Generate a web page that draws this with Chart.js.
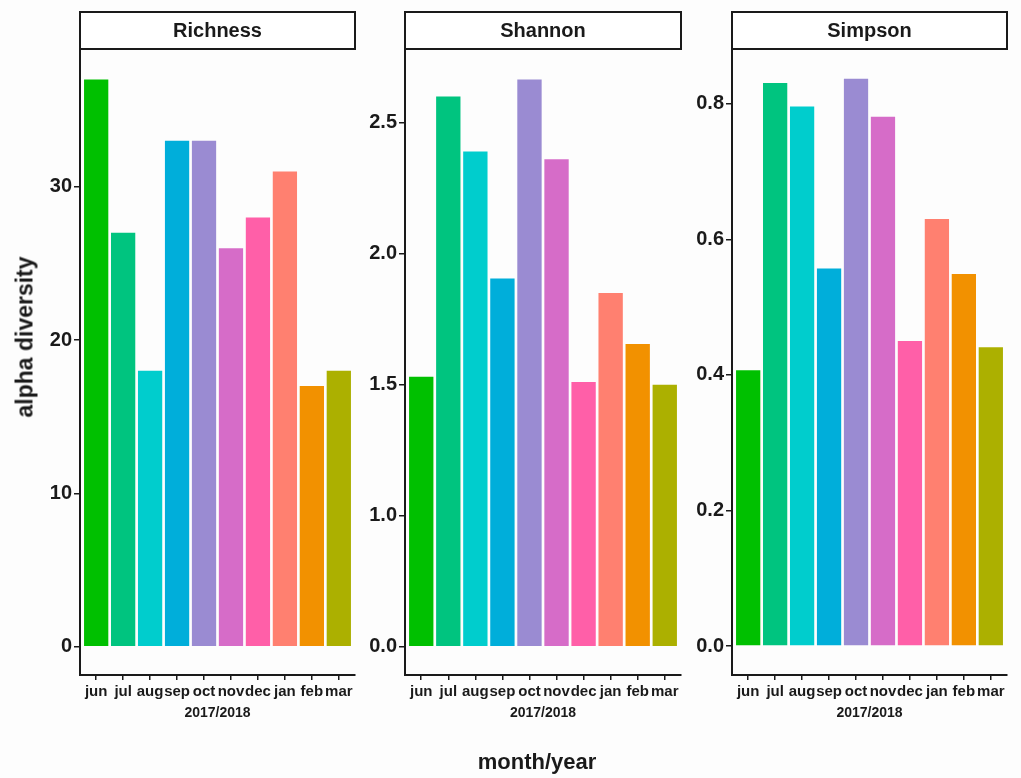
<!DOCTYPE html>
<html>
<head>
<meta charset="utf-8">
<script src="https://cdn.jsdelivr.net/npm/chart.js@4.4.0/dist/chart.umd.min.js"></script>
<style>
  body { margin: 0; background: #fdfdfd; font-family: "Liberation Sans", Arial, sans-serif; }
  #wrap { position: relative; width: 1021px; height: 778px; overflow: hidden; }
  canvas { position: absolute; top: 0; }
  .lbl { position: absolute; font-weight: bold; color: #1a1a1a; white-space: nowrap; }
  #xlab { left: 537px; top: 762px; font-size: 22px; transform: translate(-50%, -50%); }
  #ylab { left: 25px; top: 337px; font-size: 23px; transform: translate(-50%, -50%) rotate(-90deg); }
</style>
</head>
<body>
<div id="wrap">
  <canvas id="c1" width="360" height="778" style="left:0px"></canvas>
  <canvas id="c2" width="326" height="778" style="left:360px"></canvas>
  <canvas id="c3" width="335" height="778" style="left:686px"></canvas>
  <div class="lbl" id="xlab">month/year</div>
  <div class="lbl" id="ylab">alpha diversity</div>
</div>
<script>
// months of the sampling year
const months = ['jun', 'jul', 'aug', 'sep', 'oct', 'nov', 'dec', 'jan', 'feb', 'mar'];
const barColors = ['#00c000', '#00c47f', '#00cdcd', '#00aeda', '#9a8bd2', '#d66cc8', '#ff5fa8', '#ff8070', '#f29100', '#acb000'];

const richness = [37, 27, 18, 33, 33, 26, 28, 31, 17, 18];
const shannon = [1.53, 2.60, 2.39, 1.905, 2.665, 2.36, 1.51, 1.85, 1.655, 1.50];
const simpson = [0.407, 0.831, 0.796, 0.557, 0.837, 0.781, 0.450, 0.630, 0.549, 0.441];

const richnessTicks = [0, 10, 20, 30];
const shannonTicks = [0, 1, 1.5, 2, 2.5];
const simpsonTicks = [0, 0.2, 0.4, 0.6, 0.8];

const FONT = '"Liberation Sans", Arial, sans-serif';
const INK = '#1a1a1a';

// shannon axis in the figure squeezes 0..1 into half the space
class BrokenScale extends Chart.LinearScale {
  getPixelForValue(v) {
    if (v === null) return NaN;
    return super.getPixelForValue(v < 1 ? v / 2 : v - 0.5);
  }
  getValueForPixel(p) {
    const d = super.getValueForPixel(p);
    return d < 0.5 ? d * 2 : d + 0.5;
  }
}
BrokenScale.id = 'broken';
BrokenScale.defaults = Chart.LinearScale.defaults;
Chart.register(BrokenScale);

const stripPlugin = {
  id: 'strip',
  afterDraw(chart, args, opts) {
    const {ctx, chartArea} = chart;
    ctx.save();
    ctx.fillStyle = '#ffffff';
    ctx.fillRect(chartArea.left, 12, chartArea.right - chartArea.left, chartArea.top - 12);
    ctx.strokeStyle = INK;
    ctx.lineWidth = 2;
    ctx.strokeRect(chartArea.left, 12, chartArea.right - chartArea.left, chartArea.top - 12);
    ctx.fillStyle = INK;
    ctx.font = 'bold 20px ' + FONT;
    ctx.textAlign = 'center';
    ctx.textBaseline = 'middle';
    ctx.fillText(opts.text, (chartArea.left + chartArea.right) / 2, (12 + chartArea.top) / 2 + 1);
    ctx.restore();
  }
};

function makePanel(id, title, values, ticks, yType, yMin, yMax, digits, pad, yWidth) {
  new Chart(document.getElementById(id), {
    type: 'bar',
    data: {
      datasets: [{
        data: values.map((v, i) => ({x: i + 1, y: v})),
        backgroundColor: barColors,
        borderWidth: 0,
        barPercentage: 1,
        categoryPercentage: 0.9
      }]
    },
    options: {
      responsive: false,
      animation: false,
      devicePixelRatio: 1,
      layout: {padding: {top: 49, bottom: 53, left: pad[0], right: pad[1]}},
      plugins: {legend: {display: false}, tooltip: {enabled: false}, strip: {text: title}},
      scales: {
        x: {
          type: 'linear',
          offset: false,
          min: 0.4,
          max: 10.6,
          afterBuildTicks: s => { s.ticks = months.map((m, i) => ({value: i + 1})); },
          afterFit: s => { s.height = 50; },
          grid: {offset: false, drawOnChartArea: false, drawTicks: true, tickLength: 5, color: INK, lineWidth: 1.5},
          border: {display: true, color: INK, width: 2},
          ticks: {
            autoSkip: false, maxRotation: 0, padding: 3, color: INK,
            font: {family: FONT, size: 15, weight: 'bold'},
            callback: v => months[Math.round(v) - 1]
          },
          title: {display: true, text: '2017/2018', color: INK, padding: {top: 0, bottom: 3},
            font: {family: FONT, size: 14, weight: 'bold'}}
        },
        y: {
          type: yType,
          min: yMin,
          max: yMax,
          afterBuildTicks: s => { s.ticks = ticks.map(t => ({value: t})); },
          afterFit: s => { s.width = yWidth; },
          grid: {drawOnChartArea: false, drawTicks: true, tickLength: 6, color: INK, lineWidth: 1.5},
          border: {display: true, color: INK, width: 2},
          ticks: {
            padding: 2, color: INK,
            font: {family: FONT, size: 20, weight: 'bold'},
            callback: v => v.toFixed(digits)
          }
        }
      }
    },
    plugins: [stripPlugin]
  });
}

makePanel('c1', 'Richness', richness, richnessTicks, 'linear', -1.846, 38.99, 0, [35, 5], 45);
makePanel('c2', 'Shannon', shannon, shannonTicks, 'broken', -0.108, 2.281, 1, [0, 5], 45);
makePanel('c3', 'Simpson', simpson, simpsonTicks, 'linear', -0.0428, 0.881, 1, [0, 14], 46);
</script>
</body>
</html>
